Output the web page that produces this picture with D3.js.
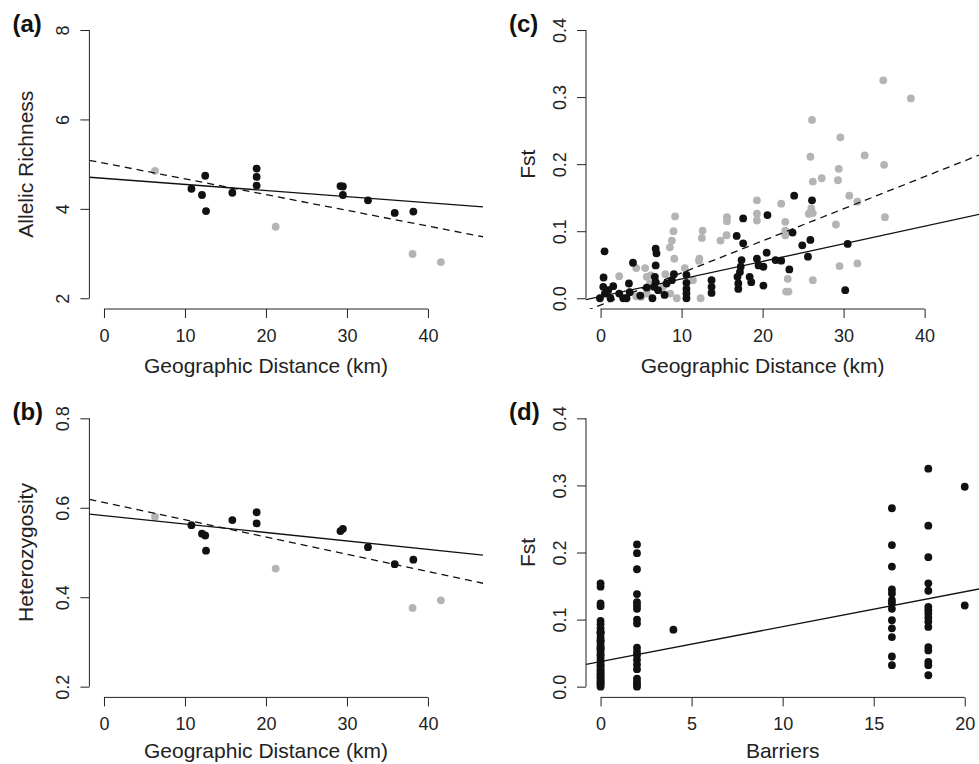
<!DOCTYPE html>
<html>
<head>
<meta charset="utf-8">
<script src="https://cdn.jsdelivr.net/npm/d3@7"></script>
<style>
body { margin: 0; background: #fff; }
svg { display: block; font-family: "Liberation Sans", Arial, Helvetica, sans-serif; }
</style>
</head>
<body>
<svg id="fig" width="979" height="764"></svg>
<script>
var svg = d3.select('#fig');

// ---- data ----
// (a) allelic richness vs geographic distance
var aBlackX = [10.8, 12.1, 12.5, 12.6, 15.85, 18.85, 18.85, 18.85, 29.2, 29.5, 29.5, 32.6, 35.9, 38.2];
var aBlackY = [4.45, 4.31, 4.74, 3.95, 4.36, 4.90, 4.715, 4.52, 4.51, 4.50, 4.31, 4.19, 3.91, 3.94];
var aGrayX = [6.3, 21.2, 38.1, 41.6];
var aGrayY = [4.85, 3.60, 2.99, 2.81];
var aSolid = [4.683, -0.0136];   // intercept, slope
var aDashed = [5.023, -0.0352];

// (b) heterozygosity vs geographic distance
var bBlackX = [10.8, 12.1, 12.5, 12.6, 15.85, 18.85, 18.85, 29.2, 29.5, 32.6, 35.9, 38.2];
var bBlackY = [0.561, 0.542, 0.538, 0.504, 0.5725, 0.590, 0.565, 0.548, 0.553, 0.512, 0.474, 0.484];
var bGrayX = [6.3, 21.2, 38.1, 41.6];
var bGrayY = [0.580, 0.464, 0.376, 0.393];
var bSolid = [0.5825, -0.00189];
var bDashed = [0.6119, -0.00386];

// (c) Fst vs geographic distance
var cBlackX = [0.49, 0.37, 0.33, 0.53, -0.08, 1.23, 1.56, 0.95, 2.3, 2.8, 3.2, 3.5, 3.6, 4.0, 4.9, 5.7, 6.4, 6.6, 6.7, 6.8,
  6.9, 6.8, 6.8, 7.1, 7.9, 8.15, 8.8, 9.05, 10.6, 10.6, 10.6, 10.6, 10.6, 13.7, 13.7, 13.7, 16.8, 17.6, 17.6, 16.9,
  17.0, 17.0, 17.4, 17.3, 17.2, 18.4, 18.6, 19.3, 19.5, 20.1, 20.1, 20.5, 20.6, 21.6, 22.3, 23.3, 23.7, 23.9, 24.9, 25.6,
  25.9, 26.1, 30.5, 30.2];
var cBlackY = [0.070, 0.031, 0.017, 0.007, 0.000, 0.000, 0.018, 0.012, 0.007, 0.000, 0.000, 0.022, 0.009, 0.053, 0.004, 0.016, 0.000, 0.017, 0.032, 0.074,
  0.067, 0.049, 0.024, 0.012, 0.005, 0.022, 0.027, 0.036, 0.035, 0.023, 0.014, 0.007, 0.000, 0.027, 0.017, 0.008, 0.093, 0.119, 0.082, 0.032,
  0.022, 0.014, 0.057, 0.047, 0.039, 0.032, 0.024, 0.059, 0.049, 0.047, 0.019, 0.068, 0.124, 0.057, 0.056, 0.043, 0.098, 0.153, 0.079, 0.062,
  0.087, 0.146, 0.081, 0.012];
var cGrayX = [34.9, 38.3, 26.1, 29.6, 25.9, 32.6, 35.0, 29.4, 27.3, 26.2, 29.3, 19.3, 22.3, 30.7, 31.7, 25.7, 26.0, 26.2, 19.3, 19.3,
  9.2, 15.6, 15.6, 12.6, 12.5, 9.0, 8.8, 8.55, 15.55, 14.8, 22.8, 22.8, 22.8, 29.05, 35.1, 12.2, 12.15, 9.1, 10.4, 29.5,
  31.7, 2.3, 4.4, 5.5, 5.7, 8.0, 23.1, 26.2, 22.9, 23.2, 9.4, 12.35, 4.4, 8.6, 5.7, 6.1, 11.4, 7.7, 6.2, 5.75, 5.0, 7.5];
var cGrayY = [0.325, 0.298, 0.266, 0.240, 0.211, 0.213, 0.199, 0.193, 0.179, 0.174, 0.176, 0.146, 0.141, 0.153, 0.144, 0.126, 0.134, 0.127, 0.126, 0.116,
  0.122, 0.121, 0.115, 0.101, 0.090, 0.100, 0.086, 0.076, 0.094, 0.086, 0.114, 0.101, 0.094, 0.110, 0.121, 0.059, 0.056, 0.059, 0.045, 0.048,
  0.052, 0.033, 0.045, 0.045, 0.032, 0.036, 0.029, 0.027, 0.010, 0.010, 0.000, 0.000, 0.003, 0.007, 0.007, 0.022, 0.027, 0.017, 0.034, 0.014, 0.002, 0.012];
var cSolid = [0.00254, 0.002622];
var cDashed = [-0.0101, 0.004786];

// (d) Fst vs number of barriers
var dBarriers = [0, 2, 4, 16, 18, 20];
var dFst0 = [0.154, 0.149, 0.124, 0.120, 0.098, 0.093, 0.087, 0.082, 0.081, 0.079, 0.074, 0.070, 0.068, 0.067, 0.062, 0.059, 0.057, 0.056,
  0.053, 0.049, 0.047, 0.043, 0.039, 0.036, 0.032, 0.031, 0.027, 0.024, 0.022, 0.019, 0.017, 0.014, 0.012, 0.009, 0.007, 0.005, 0.003, 0.000];
var dFst2 = [0.212, 0.199, 0.175, 0.138, 0.126, 0.121, 0.116, 0.100, 0.094, 0.058, 0.052, 0.047, 0.040, 0.033, 0.026, 0.012, 0.007, 0.003, 0.000];
var dFst4 = [0.085];
var dFst16 = [0.266, 0.211, 0.179, 0.145, 0.139, 0.129, 0.124, 0.116, 0.099, 0.087, 0.074, 0.045, 0.032];
var dFst18 = [0.325, 0.240, 0.193, 0.154, 0.143, 0.119, 0.114, 0.109, 0.103, 0.097, 0.089, 0.059, 0.054, 0.037, 0.032, 0.017];
var dFst20 = [0.298, 0.121];
var dSolid = [0.0373, 0.00521];

var distTicks = [0, 10, 20, 30, 40];
var barrierTicks = [0, 5, 10, 15, 20];
var richTicks = [2, 4, 6, 8];
var hetTicks = [0.2, 0.4, 0.6, 0.8];
var fstTicks = [0, 0.1, 0.2, 0.3, 0.4];

var BLACK = '#111', GRAY = '#b4b4b4';

function pts(xs, ys) { return xs.map(function(x, i) { return [x, ys[i]]; }); }
// R style axis range: limits extended by 4%
function expand(lim) { var d = (lim[1] - lim[0]) * 0.04; return [lim[0] - d, lim[1] + d]; }

var dPoints = [];
[dFst0, dFst2, dFst4, dFst16, dFst18, dFst20].forEach(function(col, i) {
  col.forEach(function(v) { dPoints.push([dBarriers[i], v]); });
});

var panels = [
  {id: 'a', label: '(a)', left: 89.4, right: 483, top: 19.3, bottom: 309, xlim: [0, 45], ylim: [2, 8],
   xticks: distTicks, yticks: richTicks, yfmt: d3.format('d'), xlab: 'Geographic Distance (km)', ylab: 'Allelic Richness',
   ylabX: 33.3, xlabY: 372.5, layers: [[pts(aGrayX, aGrayY), GRAY], [pts(aBlackX, aBlackY), BLACK]], fits: [[aSolid, null], [aDashed, '7,5']]},
  {id: 'b', label: '(b)', left: 89.4, right: 483, top: 407.6, bottom: 697.4, xlim: [0, 45], ylim: [0.2, 0.8],
   xticks: distTicks, yticks: hetTicks, yfmt: d3.format('.1f'), xlab: 'Geographic Distance (km)', ylab: 'Heterozygosity',
   ylabX: 33.3, xlabY: 758, layers: [[pts(bGrayX, bGrayY), GRAY], [pts(bBlackX, bBlackY), BLACK]], fits: [[bSolid, null], [bDashed, '7,5']]},
  {id: 'c', label: '(c)', left: 586, right: 979.7, top: 19.3, bottom: 309, xlim: [0, 45], ylim: [0, 0.4],
   xticks: distTicks, yticks: fstTicks, yfmt: d3.format('.1f'), xlab: 'Geographic Distance (km)', ylab: 'Fst',
   ylabX: 535, xlabY: 372.5, layers: [[pts(cGrayX, cGrayY), GRAY], [pts(cBlackX, cBlackY), BLACK]], fits: [[cSolid, null], [cDashed, '7,5']]},
  {id: 'd', label: '(d)', left: 586, right: 979.3, top: 407.6, bottom: 697.4, xlim: [0, 20], ylim: [0, 0.4],
   xticks: barrierTicks, yticks: fstTicks, yfmt: d3.format('.1f'), xlab: 'Barriers', ylab: 'Fst',
   ylabX: 535, xlabY: 758, layers: [[dPoints, BLACK]], fits: [[dSolid, null]]}
];

panels.forEach(function(p) {
  var x = d3.scaleLinear(expand(p.xlim), [p.left, p.right]);
  var y = d3.scaleLinear(expand(p.ylim), [p.bottom, p.top]);
  var g = svg.append('g');

  svg.append('clipPath').attr('id', 'clip-' + p.id)
    .append('rect')
    .attr('x', p.left).attr('y', p.top)
    .attr('width', p.right - p.left).attr('height', p.bottom - p.top);

  var plot = g.append('g').attr('clip-path', 'url(#clip-' + p.id + ')');

  p.layers.forEach(function(layer) {
    plot.selectAll(null)
      .data(layer[0])
      .enter()
      .append('circle')
      .attr('cx', function(d) { return x(d[0]); })
      .attr('cy', function(d) { return y(d[1]); })
      .attr('r', 3.9)
      .attr('fill', layer[1]);
  });

  // regression lines across the whole plot region
  p.fits.forEach(function(f) {
    var x0 = x.domain()[0], x1 = x.domain()[1];
    plot.append('line')
      .attr('x1', x(x0)).attr('y1', y(f[0][0] + f[0][1] * x0))
      .attr('x2', x(x1)).attr('y2', y(f[0][0] + f[0][1] * x1))
      .attr('stroke', '#111')
      .attr('stroke-width', 1.3)
      .attr('stroke-dasharray', f[1]);
  });

  // y axis
  var yAxis = g.append('g')
    .attr('transform', 'translate(' + p.left + ',0)')
    .call(d3.axisLeft(y).tickValues(p.yticks).tickFormat(p.yfmt).tickSize(9).tickSizeOuter(0));
  yAxis.select('.domain').remove();
  yAxis.append('line')
    .attr('y1', y(p.yticks[0])).attr('y2', y(p.yticks[p.yticks.length - 1]))
    .attr('stroke', '#222');
  yAxis.selectAll('.tick line').attr('stroke', '#222');
  yAxis.selectAll('.tick text')
    .attr('transform', 'rotate(-90)')
    .attr('x', 0).attr('y', -20).attr('dy', 0)
    .attr('text-anchor', 'middle')
    .attr('fill', '#222')
    .style('font-size', '18px')
    .style('font-family', '"Liberation Sans", Arial, sans-serif');

  // x axis, one line below the plot region
  var xAxis = g.append('g')
    .attr('transform', 'translate(0,' + p.bottom + ')')
    .call(d3.axisBottom(x).tickValues(p.xticks).tickFormat(d3.format('d')).tickSize(9).tickSizeOuter(0));
  xAxis.select('.domain').remove();
  xAxis.append('line')
    .attr('x1', x(p.xticks[0])).attr('x2', x(p.xticks[p.xticks.length - 1]))
    .attr('stroke', '#222');
  xAxis.selectAll('.tick line').attr('stroke', '#222');
  xAxis.selectAll('.tick text')
    .attr('y', 33).attr('dy', 0)
    .attr('fill', '#222')
    .style('font-size', '18px')
    .style('font-family', '"Liberation Sans", Arial, sans-serif');

  g.append('text')
    .attr('x', (x(p.xticks[0]) + x(p.xticks[p.xticks.length - 1])) / 2)
    .attr('y', p.xlabY)
    .attr('text-anchor', 'middle')
    .attr('fill', '#222')
    .style('font-size', '21px')
    .text(p.xlab);

  g.append('text')
    .attr('transform', 'translate(' + p.ylabX + ',' + ((p.top + p.bottom) / 2) + ') rotate(-90)')
    .attr('text-anchor', 'middle')
    .attr('fill', '#222')
    .style('font-size', '21px')
    .text(p.ylab);

  g.append('text')
    .attr('x', p.left - 77)
    .attr('y', p.top + 12.7)
    .attr('fill', '#111')
    .style('font-size', '24px')
    .style('font-weight', 'bold')
    .text(p.label);
});
</script>
</body>
</html>
